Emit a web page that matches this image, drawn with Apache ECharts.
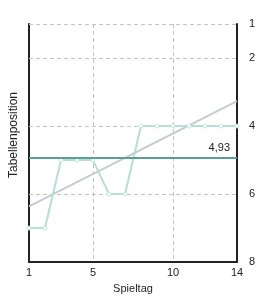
<!DOCTYPE html>
<html><head><meta charset="utf-8">
<script src="https://cdn.jsdelivr.net/npm/echarts@6/dist/echarts.min.js"></script>
<style>html,body{margin:0;padding:0;background:#fff}#c{width:266px;height:299px}</style>
</head><body><div id="c"></div>
<script>
const spieltage = [1,2,3,4,5,6,7,8,9,10,11,12,13,14];
const positionen = [7,7,5,5,5,6,6,4,4,4,4,4,4,4];
const durchschnitt = 4.93;
const durchschnittLabel = '4,93';
const trendStart = 6.36, trendEnd = 3.27;
const yTickLabels = [1,2,4,6,8];
const xTickLabels = [1,5,10,14];
const yGrid = [1,2,4,6];
const xGrid = [5,10];

const font = 'Liberation Sans, Arial, sans-serif';
const chart = echarts.init(document.getElementById('c'), null, {renderer:'canvas'});
const axisLine = {show:true, lineStyle:{color:'#222', width:2}};
chart.setOption({
  animation:false,
  grid:{left:29, right:29, top:24, bottom:36},
  graphic:[{type:'text', x:14, y:135, rotation:Math.PI/2,
    style:{text:'Tabellenposition', fill:'#222', font:'12px ' + font, textAlign:'center', textVerticalAlign:'middle'}}],
  xAxis:{type:'value', min:1, max:14, interval:1,
    name:'Spieltag', nameLocation:'middle', nameGap:20,
    nameTextStyle:{color:'#222', fontSize:11, fontFamily:font},
    axisLine:axisLine, axisTick:{show:false}, splitLine:{show:false},
    axisLabel:{color:'#222', fontSize:11, fontFamily:font, margin:5,
      formatter:v=>xTickLabels.includes(v)?String(v):''}},
  yAxis:[
    {type:'value', inverse:true, min:1, max:8, interval:1, position:'left',
     axisLine:axisLine, axisTick:{show:false}, splitLine:{show:false}, axisLabel:{show:false}},
    {type:'value', inverse:true, min:1, max:8, interval:1, position:'right',
     axisLine:axisLine, axisTick:{show:false}, splitLine:{show:false},
     axisLabel:{color:'#222', fontSize:11, fontFamily:font, margin:12,
       formatter:v=>yTickLabels.includes(v)?String(v):''}}
  ],
  series:[
    {type:'line', data:[], silent:true, z:1,
     markLine:{silent:true, symbol:'none', label:{show:false}, z:1,
       lineStyle:{color:'#c4c4c4', type:[4,3], width:1},
       data:[...yGrid.map(v=>({yAxis:v})), ...xGrid.map(v=>({xAxis:v}))]}},
    {type:'line', name:'Trend', z:3, data:[[spieltage[0],trendStart],[spieltage[spieltage.length-1],trendEnd]],
     symbol:'none', lineStyle:{color:'#c3ccd0', width:2}},
    {type:'line', name:'Position', z:4, data:spieltage.map((s,i)=>[s,positionen[i]]),
     symbol:'circle', symbolSize:4, itemStyle:{color:'#fff', borderColor:'#c4e4dc', borderWidth:1},
     lineStyle:{color:'#b5ded4', width:2}},
    {type:'line', data:[], silent:true, z:5,
     markLine:{silent:true, symbol:'none', z:5,
       lineStyle:{color:'#5a9e94', width:2, type:'solid'},
       label:{show:true, position:'insideEndTop', formatter:durchschnittLabel, color:'#222', fontSize:11, fontFamily:font, distance:[7,4]},
       data:[{yAxis:durchschnitt}]}}
  ]
});
</script></body></html>
